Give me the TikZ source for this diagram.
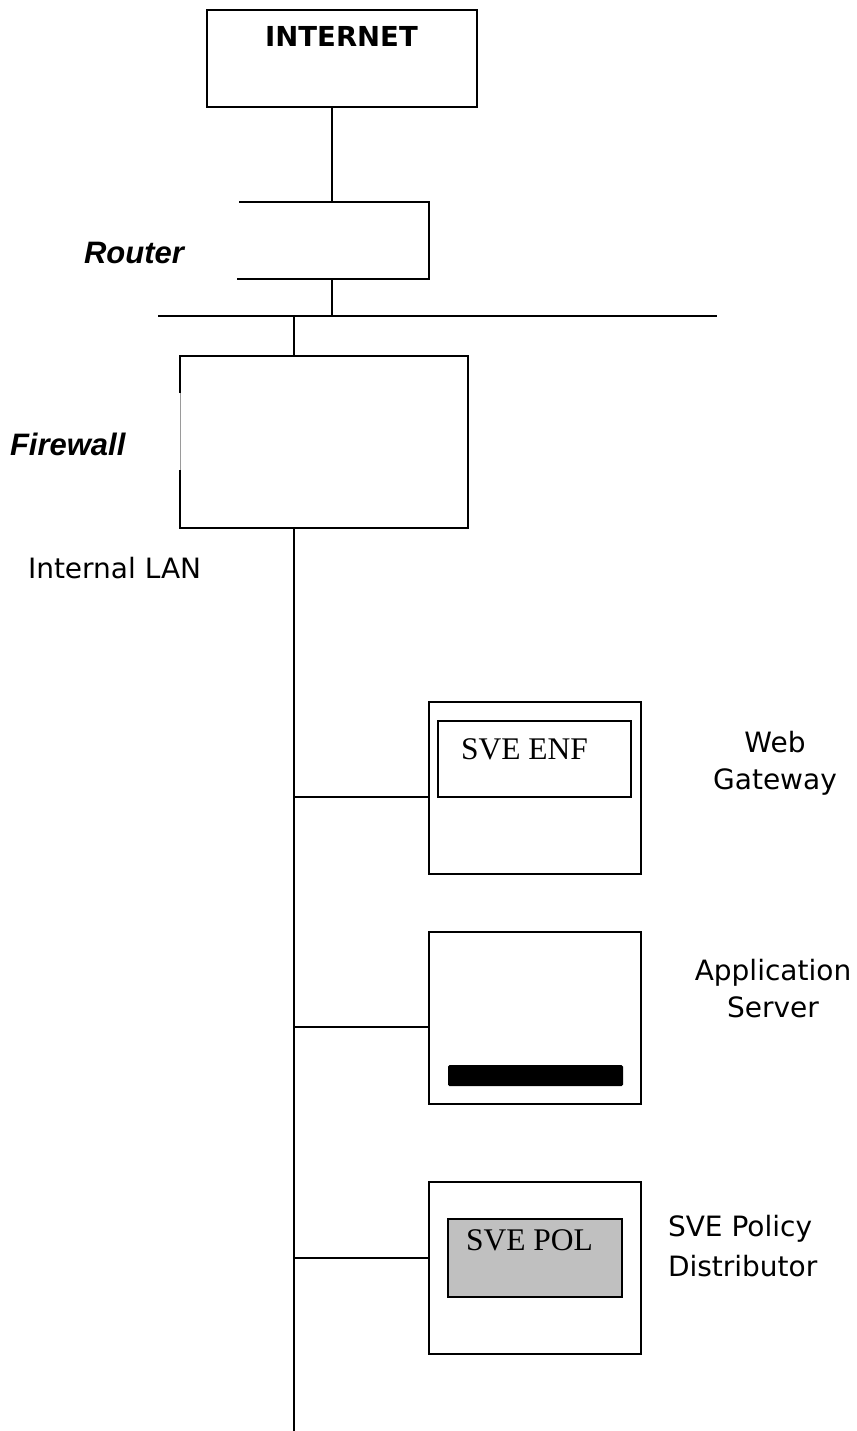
\documentclass[tikz,border=0pt]{standalone}
\usepackage{fontspec}
\setmainfont{DejaVu Sans}
\newfontfamily\boxfont{Liberation Serif}
\newfontfamily\tagfont{Liberation Sans}
\usepackage{xcolor}
\definecolor{netink}{HTML}{000000}
\definecolor{polfill}{HTML}{C0C0C0}
\definecolor{gapline}{HTML}{9A9A9A}

\begin{document}
\begin{tikzpicture}[
  x=1pt,
  y=-1pt,
  line width=2.9pt,
  every node/.style={inner sep=0pt, outer sep=0pt},
  hostbox/.style={draw=netink, rectangle, minimum width=212pt, minimum height=172pt},
  plainlbl/.style={netink, font=\fontsize{28}{37}\selectfont},
  tagtext/.style={netink, font=\tagfont\bfseries\itshape\fontsize{31}{36}\selectfont},
  cardtext/.style={netink, font=\boxfont\fontsize{31.5}{36}\selectfont}
]
  \useasboundingbox (0,0) rectangle (856,1431);

  % internet and router
  \node[draw=netink, minimum width=270pt, minimum height=97pt] (internet) at (342,58.5) {};
  \node[netink, anchor=base, font=\bfseries\fontsize{27.5}{30}\selectfont] (internettxt) at (341.5,47) {INTERNET};
  \draw[netink] (239,202) -- (429,202) -- (429,279) -- (237,279);
  \coordinate (rtrtop) at (332,202);
  \coordinate (rtrbot) at (332,279);
  \node[tagtext, anchor=base west] (routertxt) at (84,263) {Router};

  \draw[netink] (internet.south -| rtrtop) -- (rtrtop);

  % outer bus
  \coordinate (buslft) at (158,316);
  \coordinate (busrgt) at (717,316);
  \coordinate (fwtap) at (294,316);
  \draw[netink] (buslft) -- (busrgt);
  \draw[netink] (rtrbot) -- (rtrbot |- buslft);

  % firewall, left side partly open
  \coordinate (fwtop) at (294,356);
  \coordinate (fwbot) at (294,528);
  \draw[netink] (180,393) -- (180,356) -- (468,356) -- (468,528) -- (180,528) -- (180,470);
  \draw[gapline, line width=0.8pt] (180,393) -- (180,470);
  \node[tagtext, anchor=base west] (firewalltxt) at (10,455) {Firewall};
  \draw[netink] (fwtap) -- (fwtop);

  % internal lan
  \coordinate (lanend) at (294,1431);
  \draw[netink] (fwbot) -- (lanend);
  \node[plainlbl, anchor=base west] (lantxt) at (28,578) {Internal LAN};

  % web gateway
  \node[hostbox] (webgw) at (535,788) {};
  \node[draw=netink, minimum width=193pt, minimum height=76pt] (enfbox) at (534.5,759) {};
  \node[cardtext, anchor=base west] (enftxt) at (461,759) {SVE ENF};
  \node[plainlbl, align=center] (webgwtxt) at (775,763) {Web\\Gateway};
  \coordinate (webtap) at (294,797);
  \draw[netink] (webtap) -- (webtap -| webgw.west);

  % application server
  \node[hostbox] (appsrv) at (535,1018) {};
  \fill[netink, rounded corners=1.5pt] (448,1065) rectangle (623,1086);
  \node[plainlbl, align=center] (appsrvtxt) at (773,989) {Application\\Server};
  \coordinate (apptap) at (294,1027);
  \draw[netink] (apptap) -- (apptap -| appsrv.west);

  % policy distributor
  \node[hostbox] (poldist) at (535,1268) {};
  \node[draw=netink, fill=polfill, minimum width=174pt, minimum height=78pt] (polbox) at (535,1258) {};
  \node[cardtext, anchor=base west] (poltxt) at (466,1250) {SVE POL};
  \node[plainlbl, align=left, anchor=west, font=\fontsize{28}{40}\selectfont] (poldisttxt) at (668,1246) {SVE Policy\\Distributor};
  \coordinate (poltap) at (294,1258);
  \draw[netink] (poltap) -- (poltap -| poldist.west);
\end{tikzpicture}
\end{document}
